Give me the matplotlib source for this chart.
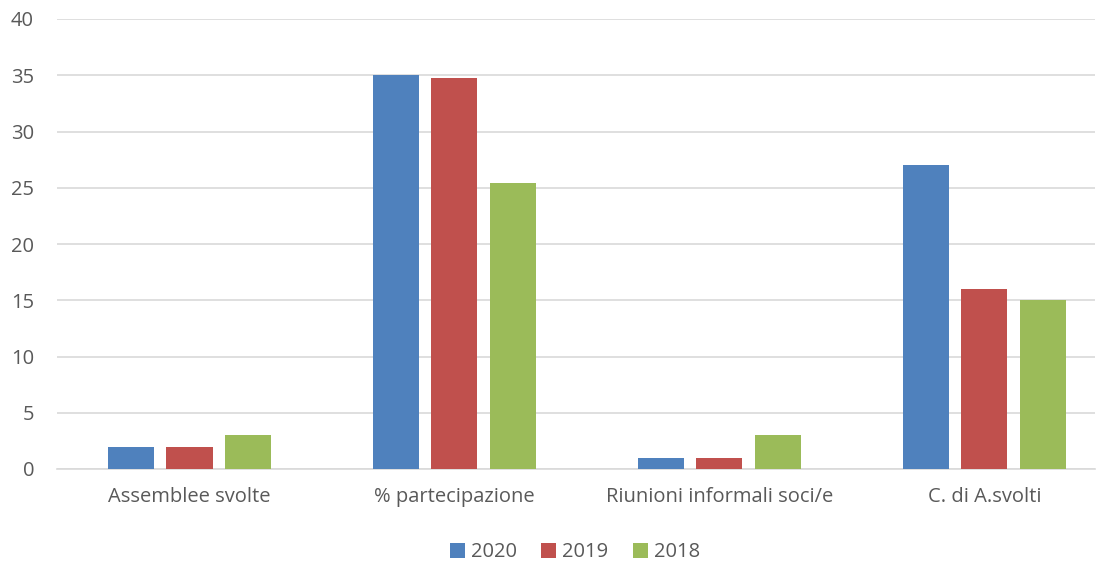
import matplotlib
matplotlib.use("Agg")
import matplotlib.pyplot as plt
import numpy as np

categories = ["Assemblee svolte", "% partecipazione", "Riunioni informali soci/e", "C. di A.svolti"]
series_names = ["2020", "2019", "2018"]
v2020 = [2, 35, 1, 27]
v2019 = [2, 34.8, 1, 16]
v2018 = [3, 25.4, 3, 15]
colors = ["#4F81BD", "#C0504D", "#9BBB59"]
yticks = [0, 5, 10, 15, 20, 25, 30, 35, 40]

plt.rcParams['font.family'] = ['Open Sans', 'DejaVu Sans']
fig = plt.figure(figsize=(11.08, 5.67), dpi=100)
ax = fig.add_axes([57 / 1108, 1 - 469 / 567, (1095 - 57) / 1108, (469 - 19) / 567])

x = np.arange(len(categories))
w = 0.1736
step = 0.2226
for i, (vals, name, c) in enumerate(zip([v2020, v2019, v2018], series_names, colors)):
    ax.bar(x + (i - 1) * step, vals, width=w, color=c, label=name, zorder=3)

ax.set_xlim(-0.5, 3.417)
ax.set_ylim(0, 40)
ax.set_yticks(yticks)
ax.yaxis.grid(True, color="#D9D9D9", linewidth=1.2, zorder=0)
ax.set_xticks(x)
ax.set_xticklabels(categories)
for s in ["top", "right", "left"]:
    ax.spines[s].set_visible(False)
ax.spines["bottom"].set_color("#D9D9D9")
ax.spines["bottom"].set_linewidth(1.2)
ax.tick_params(axis="both", length=0, labelsize=14.5, colors="#595959")
ax.tick_params(axis="x", pad=13)
ax.tick_params(axis="y", pad=16.5)

leg = fig.legend(loc="center", bbox_to_anchor=(0.519, 0.026), ncol=3, frameon=False,
                 fontsize=14.5, handlelength=0.75, handleheight=0.75, handletextpad=0.3,
                 columnspacing=1.2)
for t in leg.get_texts():
    t.set_color("#595959")

fig.savefig("out.png", dpi=100)
